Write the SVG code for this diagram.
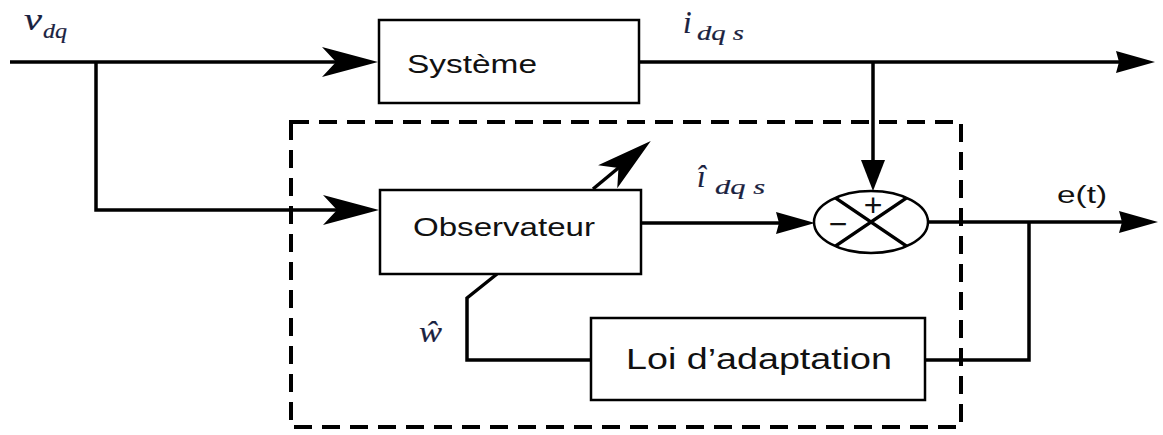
<svg xmlns="http://www.w3.org/2000/svg" width="1163" height="435" viewBox="0 0 1163 435">
  <style>
    .box { fill: #ffffff; stroke: #000000; stroke-width: 2.5; }
    .wire { fill: none; stroke: #000000; stroke-width: 3.5; stroke-linejoin: miter; }
    .frame { fill: none; stroke: #000000; stroke-width: 4; stroke-dasharray: 18 10; }
    .lbl { font-family: "Liberation Sans", Arial, sans-serif; fill: #111111; }
    .math { font-family: "Liberation Serif", "DejaVu Serif", serif; font-style: italic; fill: #1a2240; stroke: #1a2240; stroke-width: 0.2; }
  </style>
  <defs>
    <!-- notched (stealth) arrowhead; tip sits 14px past the path end -->
    <marker id="stealth" markerUnits="userSpaceOnUse" viewBox="-46 -18 64 36" refX="0" refY="0" markerWidth="64" markerHeight="36" orient="auto">
      <path d="M14,0 L-42,-15 L-28,0 L-42,15 Z" fill="#000"/>
    </marker>
    <!-- solid triangular arrowhead; tip sits 20px past the path end -->
    <marker id="tri" markerUnits="userSpaceOnUse" viewBox="-24 -14 48 28" refX="0" refY="0" markerWidth="48" markerHeight="28" orient="auto">
      <path d="M20,0 L-19,-11 L-16,0 L-19,11 Z" fill="#000"/>
    </marker>
    <marker id="triShort" markerUnits="userSpaceOnUse" viewBox="-20 -16 40 32" refX="0" refY="0" markerWidth="40" markerHeight="32" orient="auto">
      <path d="M16,0 L-15,-12 L-15,12 Z" fill="#000"/>
    </marker>
  </defs>

  <!-- observer / adaptation boundary -->
  <rect id="observer-frame" class="frame" x="291" y="122" width="670" height="305"/>

  <g id="connectors">
    <path class="wire" d="M10,62 H364" marker-end="url(#stealth)"/>
    <path class="wire" d="M96,62 V210 H365" marker-end="url(#stealth)"/>
    <path class="wire" d="M639,62 H1135" marker-end="url(#tri)"/>
    <path class="wire" d="M873,62 V175" marker-end="url(#triShort)"/>
    <path class="wire" d="M641,223 H795" marker-end="url(#tri)"/>
    <path class="wire" d="M928,222 H1138" marker-end="url(#tri)"/>
    <path class="wire" d="M1029,222 V360 H925"/>
    <path class="wire" d="M591,360 H467 V298 L497,274"/>
    <path class="wire" d="M593,189 L640,150" marker-end="url(#stealth)"/>
  </g>

  <g id="systeme">
    <rect class="box" x="379" y="20" width="260" height="83"/>
    <text class="lbl" x="407" y="73" font-size="26" textLength="130" lengthAdjust="spacingAndGlyphs">Système</text>
  </g>

  <g id="observateur">
    <rect class="box" x="380" y="190" width="261" height="84"/>
    <text class="lbl" x="413" y="236" font-size="26" textLength="182" lengthAdjust="spacingAndGlyphs">Observateur</text>
  </g>

  <g id="loi-adaptation">
    <rect class="box" x="591" y="318" width="334" height="82"/>
    <text class="lbl" x="626" y="369" font-size="29" textLength="266" lengthAdjust="spacingAndGlyphs">Loi d’adaptation</text>
  </g>

  <g id="sommateur">
    <ellipse class="box" cx="871" cy="222" rx="57" ry="31" stroke-width="3"/>
    <path class="wire" d="M835.4,197.9 L906.6,246.1 M906.6,197.9 L835.4,246.1" stroke-width="3"/>
    <text class="lbl" x="873" y="216" font-size="32" text-anchor="middle">+</text>
    <text class="lbl" x="838" y="235" font-size="32" text-anchor="middle">−</text>
  </g>

  <g id="labels">
    <text class="math" x="24" y="30" font-size="32" textLength="18" lengthAdjust="spacingAndGlyphs">v</text>
    <text class="math" x="43" y="38" font-size="22" textLength="24" lengthAdjust="spacingAndGlyphs">dq</text>
    <text class="math" x="683" y="33" font-size="31">i</text>
    <text class="math" x="697" y="40" font-size="22" textLength="47" lengthAdjust="spacingAndGlyphs">dq s</text>
    <text class="math" x="697" y="187" font-size="31">î</text>
    <text class="math" x="715" y="194" font-size="22" textLength="50" lengthAdjust="spacingAndGlyphs">dq s</text>
    <text class="math" x="419" y="342" font-size="30" textLength="23" lengthAdjust="spacingAndGlyphs">ŵ</text>
    <text class="lbl" x="1057" y="203" font-size="23" textLength="50" lengthAdjust="spacingAndGlyphs">e(t)</text>
  </g>
</svg>
